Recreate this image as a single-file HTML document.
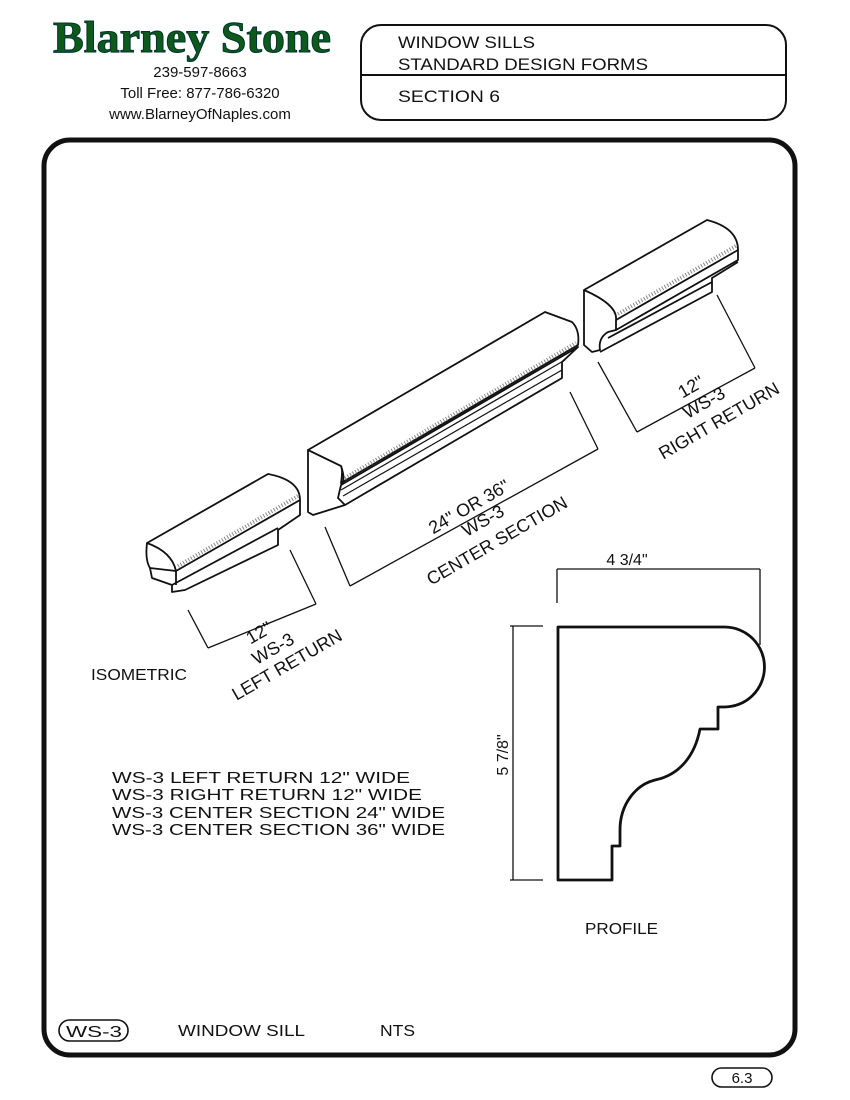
<!DOCTYPE html>
<html><head><meta charset="utf-8"><style>
body{margin:0;background:#fff;}
svg{display:block;}
text{font-family:"Liberation Sans",sans-serif;fill:#111;}
</style></head><body>
<svg width="850" height="1100" viewBox="0 0 850 1100" xmlns="http://www.w3.org/2000/svg">
<rect width="850" height="1100" fill="#fff"/>
<!-- logo -->
<text x="192" y="52" text-anchor="middle" font-size="44" font-weight="bold" style="font-family:'Liberation Serif',serif;fill:#0d5a1a;stroke:#033;stroke-width:1" textLength="278" lengthAdjust="spacingAndGlyphs">Blarney Stone</text>
<text x="200" y="77" text-anchor="middle" font-size="15">239-597-8663</text>
<text x="200" y="98" text-anchor="middle" font-size="15">Toll Free: 877-786-6320</text>
<text x="200" y="119" text-anchor="middle" font-size="15">www.BlarneyOfNaples.com</text>
<!-- title box -->
<rect x="361" y="25" width="425" height="95" rx="20" fill="none" stroke="#111" stroke-width="2"/>
<line x1="361" y1="75" x2="786" y2="75" stroke="#111" stroke-width="2"/>
<text x="398" y="48" font-size="17" textLength="137" lengthAdjust="spacingAndGlyphs">WINDOW SILLS</text>
<text x="398" y="70" font-size="17" textLength="250" lengthAdjust="spacingAndGlyphs">STANDARD DESIGN FORMS</text>
<text x="398" y="102" font-size="17" textLength="102" lengthAdjust="spacingAndGlyphs">SECTION 6</text>
<!-- main frame -->
<rect x="44" y="140" width="751" height="915" rx="26" fill="none" stroke="#111" stroke-width="5"/>
<g fill="none" stroke="#111" stroke-width="1.8" stroke-linejoin="round">
<!-- center section -->
<path d="M308,450 L545,312 L572,322 Q580,330 578,345 L341,483 Q343,470 341,466 Z" fill="#fff"/>
<path d="M308,450 L341,466 Q346,480 341,485 L338,498 L345,505 L313,515 L308,512 Z"/>
<path d="M341,485 L578,347 L562,362 L562,378 L345,505"/>
<path d="M341,490 L565,360 M343,496 L562,370" stroke-width="1.2"/>
<path d="M345,478 L576,343" stroke="#888" stroke-width="4" stroke-dasharray="1 2"/>
<!-- left return -->
<path d="M147,543 L268,474 Q300,480 300,500 L176,571 Q172,552 147,543 Z" fill="#fff"/>
<path d="M147,543 Q145,560 150,568 L176,571"/>
<path d="M150,568 L152,578 L172,585 L172,592 L185,590 L278,545 L278,530 L300,515 L300,500 M176,571 L176,585 M172,585 L278,528"/>
<path d="M178,566 L298,496" stroke="#888" stroke-width="4" stroke-dasharray="1 2"/>
<!-- right return -->
<path d="M584,290 L707,220 Q738,228 738,250 L616,320 Q618,305 584,290 Z" fill="#fff"/>
<path d="M584,290 L584,345 L592,352 L600,350 Q598,338 608,332 L616,330 L616,320"/>
<path d="M616,330 L738,260 L738,250 M738,262 L712,278 L712,292 L600,352 M608,338 L712,282"/>
<path d="M618,314 L736,246" stroke="#888" stroke-width="4" stroke-dasharray="1 2"/>
<!-- dimension lines -->
<path d="M188,610 L208,648 M290,550 L316,604 M208,648 L316,604" stroke-width="1.3"/>
<path d="M325,527 L350,586 M570,392 L598,449 M350,586 L598,449" stroke-width="1.3"/>
<path d="M598,362 L637,432 M717,295 L755,368 M637,432 L755,368" stroke-width="1.3"/>
<!-- profile -->
<path d="M558,627 L725,627 A40,40 0 0 1 724,707 L718,707 L718,729 L700,729 C695,755 680,775 655,780 C635,785 620,805 620,830 L620,846 L612,846 L612,880 L558,880 Z" stroke-width="2.8"/>
<path d="M557,569 L760,569 M557,569 L557,603 M760,569 L760,645" stroke-width="1.3"/>
<path d="M513,626 L513,880 M510,626 L543,626 M510,880 L543,880" stroke-width="1.3"/>
<!-- bottom -->
<rect x="59" y="1020" width="69" height="21" rx="10.5" stroke-width="1.6"/>
<rect x="712" y="1068" width="60" height="19" rx="9.5" stroke-width="1.6"/>
</g>
<g font-size="18">
<text x="262" y="638" transform="rotate(-30 262 638)" text-anchor="middle">12"</text>
<text x="276" y="654" transform="rotate(-30 276 654)" text-anchor="middle">WS-3</text>
<text x="290" y="670" transform="rotate(-30 290 670)" text-anchor="middle">LEFT RETURN</text>
<text x="472" y="512" transform="rotate(-30 472 512)" text-anchor="middle">24" OR 36"</text>
<text x="486" y="526" transform="rotate(-30 486 526)" text-anchor="middle">WS-3</text>
<text x="500" y="546" transform="rotate(-30 500 546)" text-anchor="middle">CENTER SECTION</text>
<text x="694" y="392" transform="rotate(-30 694 392)" text-anchor="middle">12"</text>
<text x="707" y="408" transform="rotate(-30 707 408)" text-anchor="middle">WS-3</text>
<text x="722" y="426" transform="rotate(-30 722 426)" text-anchor="middle">RIGHT RETURN</text>
</g>
<g font-size="16">
<text x="627" y="565" text-anchor="middle">4 3/4"</text>
<text x="508" y="755" transform="rotate(-90 508 755)" text-anchor="middle">5 7/8"</text>
<text x="91" y="680" textLength="96" lengthAdjust="spacingAndGlyphs">ISOMETRIC</text>
<text x="585" y="934" textLength="73" lengthAdjust="spacingAndGlyphs">PROFILE</text>
<text x="112" y="783" textLength="298" lengthAdjust="spacingAndGlyphs">WS-3  LEFT  RETURN  12"  WIDE</text>
<text x="112" y="800" textLength="310" lengthAdjust="spacingAndGlyphs">WS-3  RIGHT  RETURN  12"  WIDE</text>
<text x="112" y="818" textLength="333" lengthAdjust="spacingAndGlyphs">WS-3  CENTER  SECTION  24"  WIDE</text>
<text x="112" y="835" textLength="333" lengthAdjust="spacingAndGlyphs">WS-3  CENTER  SECTION  36"  WIDE</text>
<text x="66" y="1037" textLength="56" lengthAdjust="spacingAndGlyphs">WS-3</text>
<text x="178" y="1036" textLength="127" lengthAdjust="spacingAndGlyphs">WINDOW  SILL</text>
<text x="380" y="1036" textLength="35" lengthAdjust="spacingAndGlyphs">NTS</text>
<text x="742" y="1083" text-anchor="middle" font-size="15">6.3</text>
</g>
</svg>
</body></html>
